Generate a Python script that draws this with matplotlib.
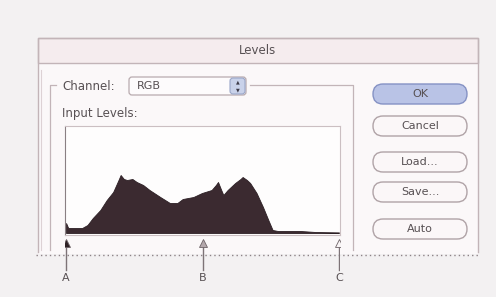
import matplotlib.pyplot as plt
from matplotlib.patches import Rectangle, FancyBboxPatch

# histogram of the Levels dialog (input level 0-255 -> relative pixel count)
levels = [0, 2, 8, 15, 20, 25, 32, 38, 44, 49, 51, 54, 57, 62, 66, 72, 78,
          88, 97, 104, 109, 119, 127, 136, 140, 142, 145, 147, 151, 158,
          163, 165, 169, 172, 178, 184, 189, 193, 198, 219, 233, 255]
counts = [10, 5, 5, 5, 8, 15, 23, 33, 41, 53, 58, 54, 53, 54, 51, 48, 43,
          36, 30, 30, 34, 36, 40, 43, 48, 51, 43, 38, 43, 50,
          54, 56, 53, 50, 40, 26, 13, 3, 2, 2, 1, 0.6]

# slider positions (black point, gamma, white point) and callout labels
slider_levels = [0, 128, 255]
slider_labels = ['A', 'B', 'C']
slider_colors = ['#2e2226', '#b4a8ac', '#f8f4f5']

buttons = ['OK', 'Cancel', 'Load...', 'Save...', 'Auto']
button_y = [94, 126, 162, 192, 229]

W, H = 496, 297
fig = plt.figure(figsize=(W / 100, H / 100), dpi=100)
fig.patch.set_facecolor('#f3f1f2')

# chrome axes in pixel coordinates
ax = fig.add_axes([0, 0, 1, 1])
ax.set_xlim(0, W)
ax.set_ylim(H, 0)
ax.axis('off')

line_c = '#c2b4b8'
text_c = '#575053'
font = 'DejaVu Sans'

# dialog body and title bar (open at the bottom, cut by the dotted line)
ax.add_patch(Rectangle((38, 38), 440, 216, facecolor='#fbf8f9', edgecolor='none'))
ax.plot([38, 38, 478, 478], [252, 38, 38, 252], color=line_c, lw=1.0)
ax.add_patch(Rectangle((38, 38), 440, 25, facecolor='#f5ecee', edgecolor=line_c, lw=1.0))
ax.text(258, 51, 'Levels', ha='center', va='center', fontsize=8.5, color=text_c, family=font)

# channel group box
ax.plot([56, 50, 50], [85, 85, 250], color=line_c, lw=0.9)
ax.plot([250, 353, 353], [85, 85, 250], color=line_c, lw=0.9)
ax.plot([41, 41], [70, 250], color='#ddd2d5', lw=0.8)
ax.text(62, 86, 'Channel:', ha='left', va='center', fontsize=8.5, color=text_c, family=font)
ax.add_patch(FancyBboxPatch((129, 77), 117, 18, boxstyle='round,pad=0,rounding_size=3',
                            facecolor='#fdfbfc', edgecolor='#b8aaae', lw=0.9))
ax.text(137, 86, 'RGB', ha='left', va='center', fontsize=8, color=text_c, family=font)
ax.add_patch(FancyBboxPatch((230, 78), 15, 16, boxstyle='round,pad=0,rounding_size=3',
                            facecolor='#c9d2ea', edgecolor='#9aa6c8', lw=0.8))
ax.text(237.5, 82, '\u25b2', ha='center', va='center', fontsize=3.5, color='#3c3a48')
ax.text(237.5, 90, '\u25bc', ha='center', va='center', fontsize=3.5, color='#3c3a48')
ax.text(62, 113, 'Input Levels:', ha='left', va='center', fontsize=8.5, color=text_c, family=font)

# buttons on the right
for name, yc in zip(buttons, button_y):
    if name == 'OK':
        fc, ec = '#b9c3e6', '#8592c4'
    else:
        fc, ec = '#fbf7f8', '#b0a3a7'
    ax.add_patch(FancyBboxPatch((373, yc - 10), 94, 20, boxstyle='round,pad=0,rounding_size=10',
                                facecolor=fc, edgecolor=ec, lw=1.0))
    ax.text(420, yc, name, ha='center', va='center', fontsize=8, color=text_c, family=font)

# dotted line crossing the bottom of the dialog
ax.plot([36, 480], [255, 255], color='#8d8387', lw=1.0, ls=(0, (1, 2.2)))

# histogram axes
hx0, hx1, hy0, hy1 = 65, 340, 126, 235
hax = fig.add_axes([hx0 / W, 1 - hy1 / H, (hx1 - hx0) / W, (hy1 - hy0) / H])
hax.set_facecolor('#fefdfd')
hax.fill_between(levels, counts, 0, color='#3b2a30', lw=0.6, edgecolor='#2c1f24')
hax.set_xlim(-1, 256)
hax.set_ylim(-2, 107)
hax.set_xticks([])
hax.set_yticks([])
for s in hax.spines.values():
    s.set_color('#cbbfc2')
    s.set_linewidth(0.8)
hax.spines['left'].set_color('#8a7f83')

# slider and callouts share the histogram's level scale
sax = fig.add_axes([hx0 / W, 1 - 285 / H, (hx1 - hx0) / W, (285 - 237) / H], sharex=hax)
sax.set_ylim(48, 0)
sax.axis('off')
for lv, lab, col in zip(slider_levels, slider_labels, slider_colors):
    sax.plot([lv, lv], [8, 33], color='#7d7377', lw=1.0)
    sax.plot([lv], [6], marker='^', ms=6, color=col, mec='#6e6468', mew=0.6)
    sax.text(lv, 41, lab, ha='center', va='center', fontsize=8, color=text_c, family=font)

fig.savefig('out.png', dpi=100, facecolor=fig.get_facecolor())
